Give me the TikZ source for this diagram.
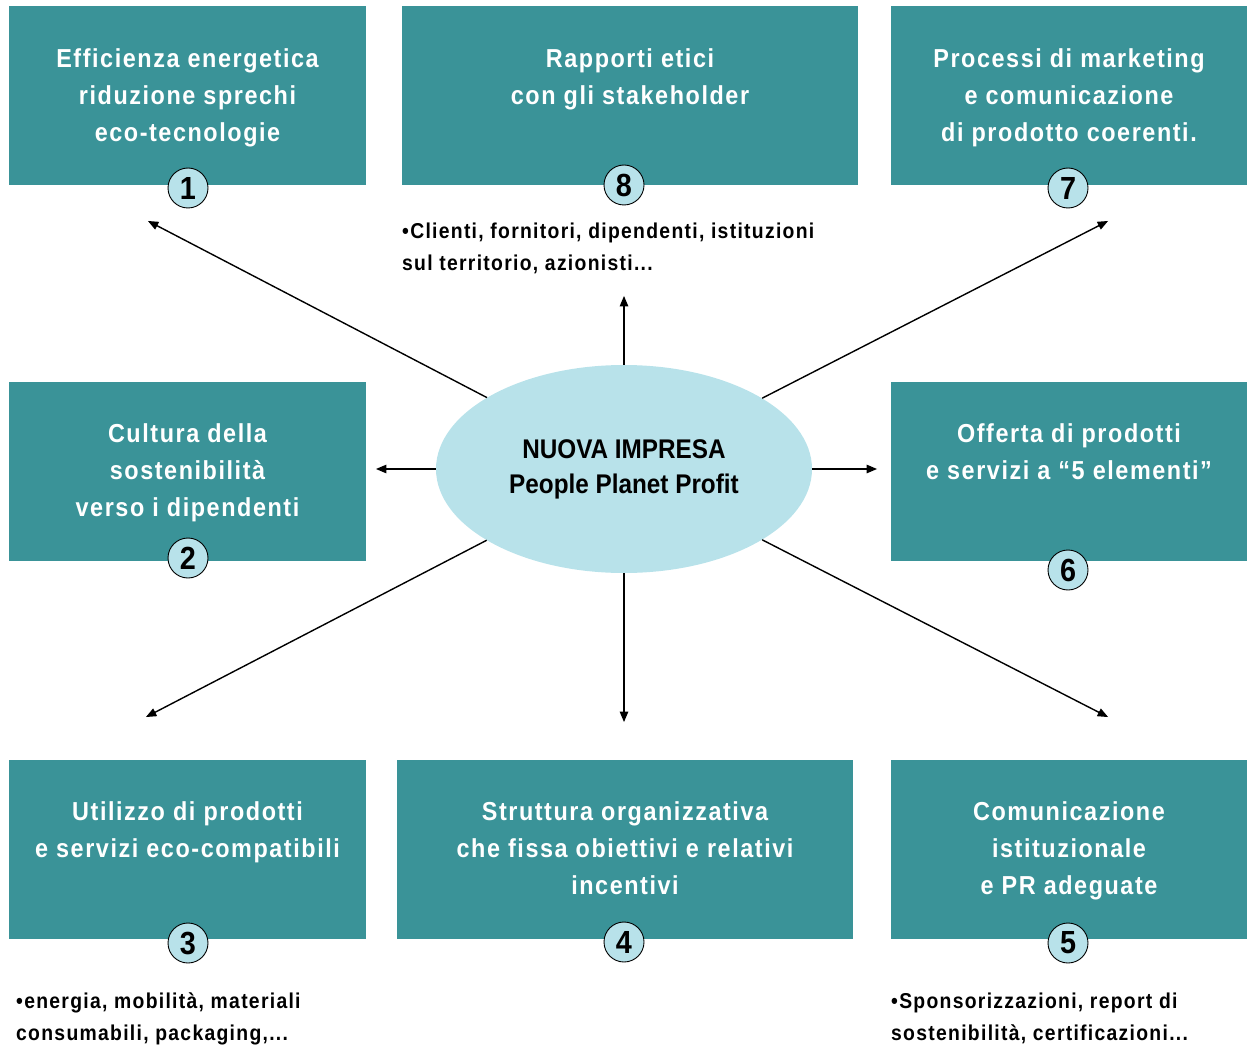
\documentclass[tikz,border=0pt]{standalone}
\usepackage{fontspec}
\setmainfont{Liberation Sans}[FakeStretch=0.9]
\newfontfamily\spaziato{Liberation Sans}[FakeStretch=0.9, LetterSpace=6]
\usetikzlibrary{positioning,shapes.geometric,arrows}

\definecolor{petrolio}{HTML}{3A9398}
\definecolor{azzurro}{HTML}{B8E2EA}

\tikzset{
  area/.style={rectangle, fill=petrolio, draw=none, minimum height=179pt, inner sep=0pt},
  areatext/.style={text=white, align=center, inner sep=0pt, font=\spaziato\fontsize{26}{37}\selectfont\bfseries},
  num/.style={circle, draw=black, line width=0.9pt, fill=azzurro, minimum size=40pt, inner sep=0pt, font=\fontsize{32}{32}\selectfont\bfseries},
  nota/.style={anchor=north west, align=left, inner sep=0pt, font=\spaziato\fontsize{21.5}{32}\selectfont\bfseries},
  freccia/.style={line width=1.4pt, -triangle 45}
}

\begin{document}
\begin{tikzpicture}[x=1pt,y=-1pt]
  \useasboundingbox (0,0) rectangle (1247,1048);

  % riquadri
  \node [area, minimum width=357pt] (b1) at (187.5,95.5) {};
  \node [area, minimum width=456pt] (b8) at (630,95.5) {};
  \node [area, minimum width=356pt] (b7) at (1069,95.5) {};
  \node [area, minimum width=357pt] (b2) at (187.5,471.5) {};
  \node [area, minimum width=356pt] (b6) at (1069,471.5) {};
  \node [area, minimum width=357pt] (b3) at (187.5,849.5) {};
  \node [area, minimum width=456pt] (b4) at (625,849.5) {};
  \node [area, minimum width=356pt] (b5) at (1069,849.5) {};

  \node [areatext, below=43pt of b1.north] (t1) {Efficienza energetica\\riduzione sprechi\\eco-tecnologie};
  \node [areatext, below=43pt of b8.north] (t8) {Rapporti etici\\con gli stakeholder};
  \node [areatext, below=43pt of b7.north] (t7) {Processi di marketing\\e comunicazione\\di prodotto coerenti.};
  \node [areatext, below=42pt of b2.north] (t2) {Cultura della\\sostenibilità\\verso i dipendenti};
  \node [areatext, below=42pt of b6.north] (t6) {Offerta di prodotti\\e servizi a “5 elementi”};
  \node [areatext, below=42pt of b3.north] (t3) {Utilizzo di prodotti\\e servizi eco-compatibili};
  \node [areatext, below=42pt of b4.north] (t4) {Struttura organizzativa\\che fissa obiettivi e relativi\\incentivi};
  \node [areatext, below=42pt of b5.north] (t5) {Comunicazione\\istituzionale\\e PR adeguate};

  \foreach \n/\x/\y in {1/188/188, 8/624/185, 7/1068/188, 2/188/558,
                        6/1068/570, 3/188/943, 4/624/942, 5/1068/943}
    \node [num] (c\n) at (\x,\y) {\n};

  % centro
  \node [ellipse, fill=azzurro, minimum width=376pt, minimum height=208pt, align=center,
         font=\fontsize{27}{35}\selectfont\bfseries] (imp) at (624,469) {NUOVA IMPRESA\\People Planet Profit};

  \coordinate (p1) at (148,221);
  \coordinate (p8) at (624,296);
  \coordinate (p7) at (1108,221);
  \coordinate (p2) at (376,469);
  \coordinate (p6) at (877,469);
  \coordinate (p3) at (146,717);
  \coordinate (p4) at (624,722);
  \coordinate (p5) at (1108,717);

  \foreach \p in {p1,p8,p7,p2,p6,p3,p4,p5}
    \draw [freccia] (imp) -- (\p);

  % note
  \node [nota] (n8) at (402,223) {•Clienti, fornitori, dipendenti, istituzioni\\sul territorio, azionisti...};
  \node [nota] (n3) at (16,993) {•energia, mobilità, materiali\\consumabili, packaging,...};
  \node [nota] (n5) at (891,993) {•Sponsorizzazioni, report di\\sostenibilità, certificazioni...};

\end{tikzpicture}
\end{document}
